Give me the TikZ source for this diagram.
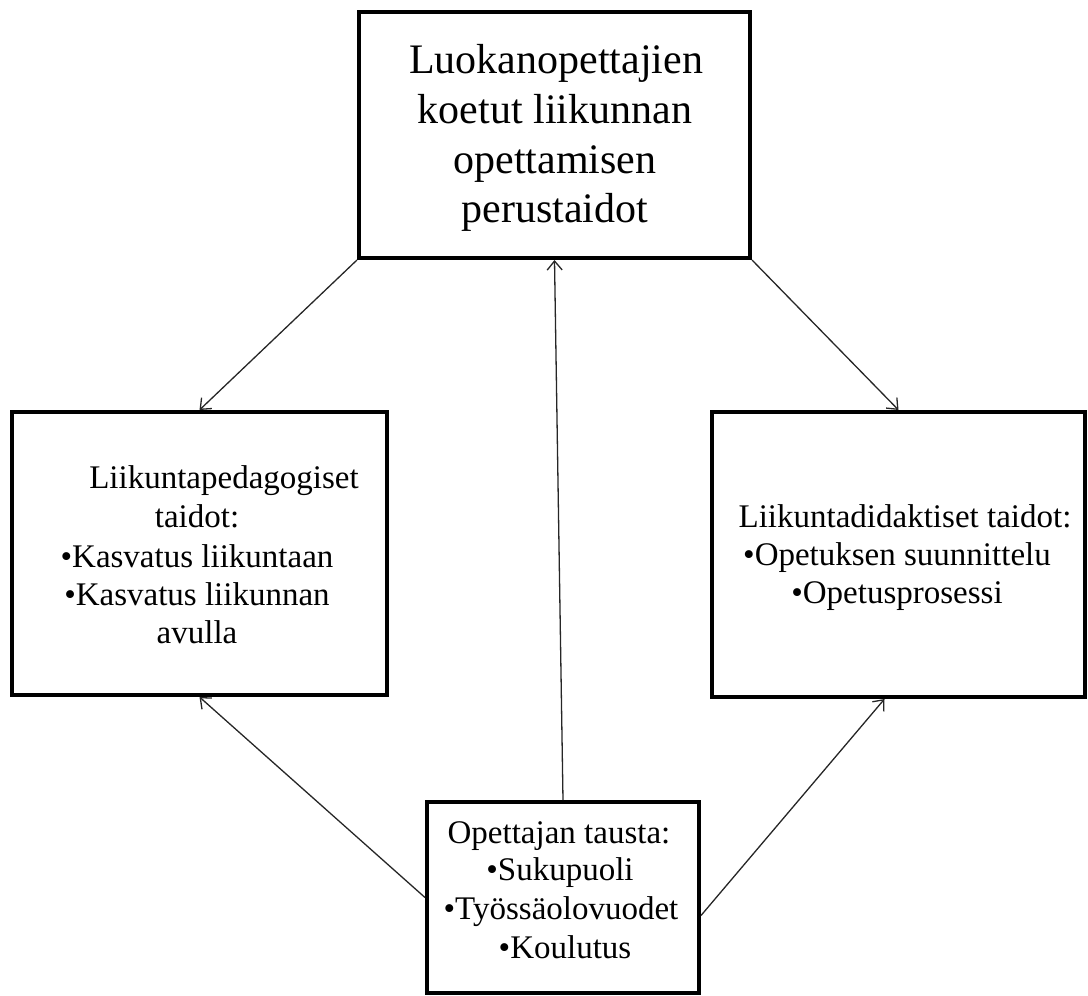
\documentclass[tikz,border=0pt]{standalone}
\usepackage{fontspec}
\setmainfont{Liberation Serif}
\usetikzlibrary{arrows.meta}
\begin{document}
\begin{tikzpicture}[x=1pt,y=-1pt,
  box/.style={draw=black, line width=4pt, rectangle, inner sep=0pt, fill=none},
  big/.style={anchor=base, inner sep=0pt, font=\fontsize{42}{50}\selectfont},
  small/.style={anchor=base, inner sep=0pt, font=\fontsize{33}{39}\selectfont},
  conn/.style={draw=black!85, line width=1.3pt, -{Straight Barb[length=9pt,width=15pt,line width=1.3pt]}}
]
\useasboundingbox (0,0) rectangle (1088,996);
% boxes
\node[box, minimum width=391pt, minimum height=246pt] (top) at (554.5,135) {};
\node[box, minimum width=375pt, minimum height=283pt] (left) at (199.5,553.5) {};
\node[box, minimum width=373pt, minimum height=285pt] (right) at (898.5,554.5) {};
\node[box, minimum width=272pt, minimum height=191pt] (bot) at (563,897.5) {};
% top text
\node[big] (t1) at (556,73) {Luokanopettajien};
\node[big] (t2) at (555,123) {koetut liikunnan};
\node[big] (t3) at (555,173) {opettamisen};
\node[big] (t4) at (555,222) {perustaidot};
% left text
\node[small] (l1) at (224,488) {Liikuntapedagogiset};
\node[small] (l2) at (197,527) {taidot:};
\node[small] (l3) at (197,567) {•Kasvatus liikuntaan};
\node[small] (l4) at (197,605) {•Kasvatus liikunnan};
\node[small] (l5) at (197,643) {avulla};
% right text
\node[small] (r1) at (905,527) {Liikuntadidaktiset taidot:};
\node[small] (r2) at (897,565) {•Opetuksen suunnittelu};
\node[small] (r3) at (897,603) {•Opetusprosessi};
% bottom text
\node[small] (b1) at (559,843) {Opettajan tausta:};
\node[small] (b2) at (560,880) {•Sukupuoli};
\node[small] (b3) at (561,919) {•Työssäolovuodet};
\node[small] (b4) at (565,958) {•Koulutus};
% connectors
\draw[conn] (top.south west) -- (left.north);
\draw[conn] (top.south east) -- (right.north);
\draw[conn] (bot.north) -- (top.south);
\draw[conn] (bot.west) -- (left.south);
\draw[conn] ([yshift=-18pt]bot.east) -- ([xshift=-14pt]right.south);
\end{tikzpicture}
\end{document}
